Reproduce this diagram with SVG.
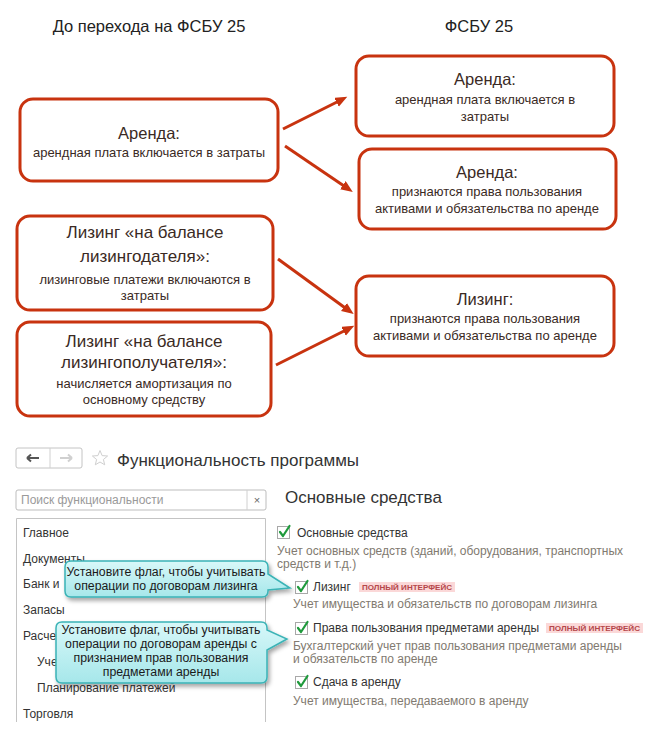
<svg xmlns="http://www.w3.org/2000/svg" width="654" height="735" viewBox="0 0 654 735">
<defs>
<style>
.box{fill:#fff;stroke:#c8330f;stroke-width:3}
.hd{font-family:"Liberation Sans",Arial,sans-serif;font-size:16.5px;fill:#222;text-anchor:middle}
.tt{font-family:"Liberation Sans",Arial,sans-serif;font-size:16.5px;fill:#3a2a24;text-anchor:middle}
.tb{font-family:"Liberation Sans",Arial,sans-serif;font-size:17px;fill:#3a2a24;text-anchor:middle}
.ts{font-family:"Liberation Sans",Arial,sans-serif;font-size:13px;fill:#3a2a24;text-anchor:middle}
.conn line{stroke:#c8330f;stroke-width:3;fill:none}
.ui{font-family:"Liberation Sans",Arial,sans-serif;font-size:12px;fill:#333}
.desc{font-family:"Liberation Sans",Arial,sans-serif;font-size:12px;fill:#817a70}
.big{font-family:"Liberation Sans",Arial,sans-serif;font-size:17px;fill:#333}
.frame{fill:none;stroke:#c4c4c4;stroke-width:1}
.cb{fill:#fff;stroke:#a8a8a8;stroke-width:1}
.ck{fill:none;stroke:#1f9a3c;stroke-width:2.2;stroke-linecap:round;stroke-linejoin:round}
.badge{fill:#fbd8d8}
.bt{font-family:"Liberation Sans",Arial,sans-serif;font-size:8px;font-weight:bold;fill:#b5474a}
.tip{fill:url(#tipg);stroke:#3ab3b6;stroke-width:1.5;filter:url(#sh)}
.tipt{font-family:"Liberation Sans",Arial,sans-serif;font-size:12.3px;fill:#1a1a1a;text-anchor:middle}
</style>
<marker id="ah" markerUnits="userSpaceOnUse" markerWidth="13" markerHeight="11" refX="5" refY="5" orient="auto">
<path d="M0,0 L12,5 L0,10 Z" fill="#c8330f"/>
</marker>
<linearGradient id="tipg" x1="0" y1="0" x2="0" y2="1">
<stop offset="0" stop-color="#d8f8f9"/>
<stop offset="1" stop-color="#a6e7ea"/>
</linearGradient>
<filter id="sh" x="-10%" y="-20%" width="125%" height="150%">
<feDropShadow dx="2" dy="3" stdDeviation="2" flood-color="#000" flood-opacity="0.35"/>
</filter>
</defs>
<rect width="654" height="735" fill="#fff"/>

<text class="hd" x="149" y="32">До перехода на ФСБУ 25</text>
<text class="hd" x="479" y="32">ФСБУ 25</text>

<g id="conn" class="conn">
<line x1="283" y1="129" x2="341" y2="100" marker-end="url(#ah)"/>
<line x1="285" y1="146" x2="347" y2="188" marker-end="url(#ah)"/>
<line x1="278" y1="259" x2="348" y2="310" marker-end="url(#ah)"/>
<line x1="276" y1="365" x2="348" y2="329" marker-end="url(#ah)"/>
</g>

<g id="n-arenda-old">
<rect class="box" x="20" y="99" width="258" height="82" rx="13"/>
<text class="tt" x="149" y="139">Аренда:</text>
<text class="ts" x="149" y="157">арендная плата включается в затраты</text>
</g>
<g id="n-arenda-new1">
<rect class="box" x="356" y="56" width="258" height="80" rx="13"/>
<text class="tt" x="485" y="85">Аренда:</text>
<text class="ts" x="485" y="104">арендная плата включается в</text>
<text class="ts" x="485" y="121">затраты</text>
</g>
<g id="n-arenda-new2">
<rect class="box" x="359" y="149" width="257" height="80" rx="13"/>
<text class="tt" x="487" y="178">Аренда:</text>
<text class="ts" x="487" y="196">признаются права пользования</text>
<text class="ts" x="487" y="213">активами и обязательства по аренде</text>
</g>
<g id="n-lizing-dat">
<rect class="box" x="17" y="216" width="256" height="94" rx="13"/>
<text class="tb" x="145" y="238">Лизинг «на балансе</text>
<text class="tb" x="145" y="262">лизингодателя»:</text>
<text class="ts" x="145" y="284">лизинговые платежи включаются в</text>
<text class="ts" x="145" y="300">затраты</text>
</g>
<g id="n-lizing-pol">
<rect class="box" x="17" y="322" width="254" height="94" rx="13"/>
<text class="tb" x="144" y="347">Лизинг «на балансе</text>
<text class="tb" x="144" y="368">лизингополучателя»:</text>
<text class="ts" x="144" y="388">начисляется амортизация по</text>
<text class="ts" x="144" y="404">основному средству</text>
</g>
<g id="n-lizing-new">
<rect class="box" x="356" y="276" width="258" height="80" rx="13"/>
<text class="tt" x="485" y="305">Лизинг:</text>
<text class="ts" x="485" y="323">признаются права пользования</text>
<text class="ts" x="485" y="340">активами и обязательства по аренде</text>
</g>

<g id="ui-header">
<rect x="16" y="448" width="66" height="20" rx="2" fill="#fff" stroke="#c4c4c4"/>
<line x1="50" y1="448" x2="50" y2="468" stroke="#d0d0d0"/>
<path d="M27,458 H39 M27,458 L31,454.5 M27,458 L31,461.5" stroke="#555" stroke-width="2" fill="none"/>
<path d="M60,458 H72 M72,458 L68,454.5 M72,458 L68,461.5" stroke="#d0d0d0" stroke-width="2" fill="none"/>
<polygon points="100,450.5 102.1,455.6 107.6,456 103.4,459.5 104.7,464.8 100,462 95.3,464.8 96.6,459.5 92.4,456 97.9,455.6" fill="none" stroke="#cfcfcf" stroke-width="1"/>
<text class="big" x="117" y="466">Функциональность программы</text>
</g>

<g id="ui-search">
<rect x="16" y="490" width="250" height="20" rx="2" fill="#fff" stroke="#bdbdbd"/>
<line x1="247" y1="490" x2="247" y2="510" stroke="#d0d0d0"/>
<text class="ui" x="21" y="504" style="fill:#9a9a9a">Поиск функциональности</text>
<text class="ui" x="257" y="504" text-anchor="middle" style="font-size:11px;fill:#666">×</text>
</g>

<g id="ui-menu">
<path class="frame" d="M16.5,722 V518.5 H265.5 V722"/>
<text class="ui" x="23" y="537">Главное</text>
<text class="ui" x="23" y="563">Документы</text>
<text class="ui" x="23" y="588">Банк и</text>
<text class="ui" x="23" y="614">Запасы</text>
<text class="ui" x="23" y="640">Расче</text>
<text class="ui" x="37" y="666">Уче</text>
<text class="ui" x="37" y="692">Планирование платежей</text>
<text class="ui" x="23" y="718">Торговля</text>
</g>

<g id="ui-settings">
<text class="big" x="285" y="503">Основные средства</text>
<rect class="cb" x="277.5" y="526.5" width="12" height="12"/>
<path class="ck" d="M280,532 L283,536 L289.5,526"/>
<text class="ui" x="297" y="537">Основные средства</text>
<text class="desc" x="277" y="555">Учет основных средств (зданий, оборудования, транспортных</text>
<text class="desc" x="277" y="568">средств и т.д.)</text>

<rect class="cb" x="295.5" y="581.5" width="12" height="12"/>
<path class="ck" d="M298,587 L301,591 L307.5,581"/>
<text class="ui" x="313" y="591">Лизинг</text>
<rect class="badge" x="359" y="582" width="96" height="10"/>
<text class="bt" x="362" y="590" textLength="90" lengthAdjust="spacingAndGlyphs">ПОЛНЫЙ ИНТЕРФЕЙС</text>
<text class="desc" x="293" y="608">Учет имущества и обязательств  по договорам лизинга</text>

<rect class="cb" x="295.5" y="622.5" width="12" height="12"/>
<path class="ck" d="M298,628 L301,632 L307.5,622"/>
<text class="ui" x="313" y="632">Права пользования предметами аренды</text>
<rect class="badge" x="546" y="623" width="97" height="10"/>
<text class="bt" x="549" y="631" textLength="91" lengthAdjust="spacingAndGlyphs">ПОЛНЫЙ ИНТЕРФЕЙС</text>
<text class="desc" x="293" y="650">Бухгалтерский учет прав пользования предметами аренды</text>
<text class="desc" x="293" y="663">и обязательств по аренде</text>

<rect class="cb" x="295.5" y="676.5" width="12" height="12"/>
<path class="ck" d="M298,682 L301,686 L307.5,676"/>
<text class="ui" x="313" y="686">Сдача в аренду</text>
<text class="desc" x="293" y="705">Учет имущества, передаваемого в аренду</text>
</g>

<g id="tip-lizing">
<path class="tip" d="M71,561 H262 Q268,561 268,567 V574 L290,588 L268,590 V591 Q268,597 262,597 H71 Q65,597 65,591 V567 Q65,561 71,561 Z"/>
<text class="tipt" x="166" y="576">Установите флаг, чтобы учитывать</text>
<text class="tipt" x="166" y="590">операции по договорам лизинга</text>
</g>
<g id="tip-arenda">
<path class="tip" d="M62,622 H261 Q267,622 267,628 V630 L287,639 L267,650 V677 Q267,683 261,683 H62 Q56,683 56,677 V628 Q56,622 62,622 Z"/>
<text class="tipt" x="161" y="634">Установите флаг, чтобы учитывать</text>
<text class="tipt" x="161" y="648">операции по договорам аренды с</text>
<text class="tipt" x="161" y="662">признанием прав пользования</text>
<text class="tipt" x="161" y="676">предметами аренды</text>
</g>
</svg>
